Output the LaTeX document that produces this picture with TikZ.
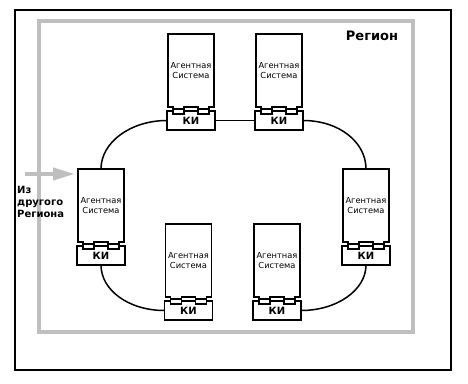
\documentclass[tikz,border=0pt]{standalone}
\usepackage{fontspec}
\setmainfont{DejaVu Sans}
\usetikzlibrary{calc,arrows.meta}
\tikzset{
  sysbox/.style={minimum width=46pt,minimum height=73pt,inner sep=0pt,outer sep=0pt,align=center,font=\fontsize{8.3}{10}\selectfont},
  kibox/.style={minimum width=48pt,minimum height=19pt,inner sep=0pt,outer sep=0pt,font=\bfseries\fontsize{10}{11}\selectfont},
  outline/.style={line width=1.5pt,line join=miter},
  link/.style={line width=1.5pt},
  frameblack/.style={line width=2pt},
  framegray/.style={line width=4pt,color=black!25},
  grayarrow/.style={line width=4pt,color=black!25,-{Triangle[length=22pt,width=12pt]}},
  lbl/.style={inner sep=0pt,font=\bfseries\fontsize{10}{12}\selectfont,align=left},
  title/.style={inner sep=0pt,font=\bfseries\fontsize{13}{15}\selectfont}
}
\newcommand\agentunit[3]{%
  \node[sysbox] (s#1) at (#2,#3+36.5) {Агентная\\Система};
  \node[kibox] (k#1) at (#2,#3+86.5) {КИ};
  \draw[outline] (s#1.south west) -- (s#1.north west) -- (s#1.north east) -- (s#1.south east)
     -- ++(-5,0) -- ++(0,2) -- ++(-11,0) -- ++(0,-2) -- ++(-14,0) -- ++(0,2) -- ++(-11,0) -- ++(0,-2) -- cycle;
  \draw[outline] (k#1.north west) -- ++(6,0) -- ++(0,3) -- ++(11,0) -- ++(0,-3) -- ++(14,0)
     -- ++(0,3) -- ++(11,0) -- ++(0,-3) -- (k#1.north east) -- (k#1.south east) -- (k#1.south west) -- cycle;
}
\begin{document}
\begin{tikzpicture}[x=1pt,y=-1pt]
\useasboundingbox (0,0) rectangle (468,383);
\draw[frameblack] (15,9.5) rectangle (451,370);
\draw[framegray] (39,21) rectangle (413,332);
\node[title] (reg) at (372,36) {Регион};
\agentunit{1}{191}{34}
\agentunit{2}{279}{34}
\agentunit{3}{101}{169}
\agentunit{4}{366}{169}
\agentunit{5}{188.5}{224}
\agentunit{6}{277}{224}
\draw[link] (k1.east) -- (k2.west);
\draw[link] (k1.west) .. controls ($(k1.west)+(-36,0)$) and ($(s3.north)+(0,-27)$) .. (s3.north);
\draw[link] (k2.east) .. controls ($(k2.east)+(36,0)$) and ($(s4.north)+(0,-27)$) .. (s4.north);
\draw[link] (k3.south) .. controls ($(k3.south)+(0,25)$) and ($(k5.west)+(-36,0)$) .. (k5.west);
\draw[link] (k6.east) .. controls ($(k6.east)+(36,0)$) and ($(k4.south)+(0,25)$) .. (k4.south);
\coordinate (src) at (25,174);
\coordinate (tip) at (75,174);
\draw[grayarrow] (src) -- (tip);
\node[lbl,anchor=north west] (from) at (17,186) {Из\\другого\\Региона};
\end{tikzpicture}
\end{document}
